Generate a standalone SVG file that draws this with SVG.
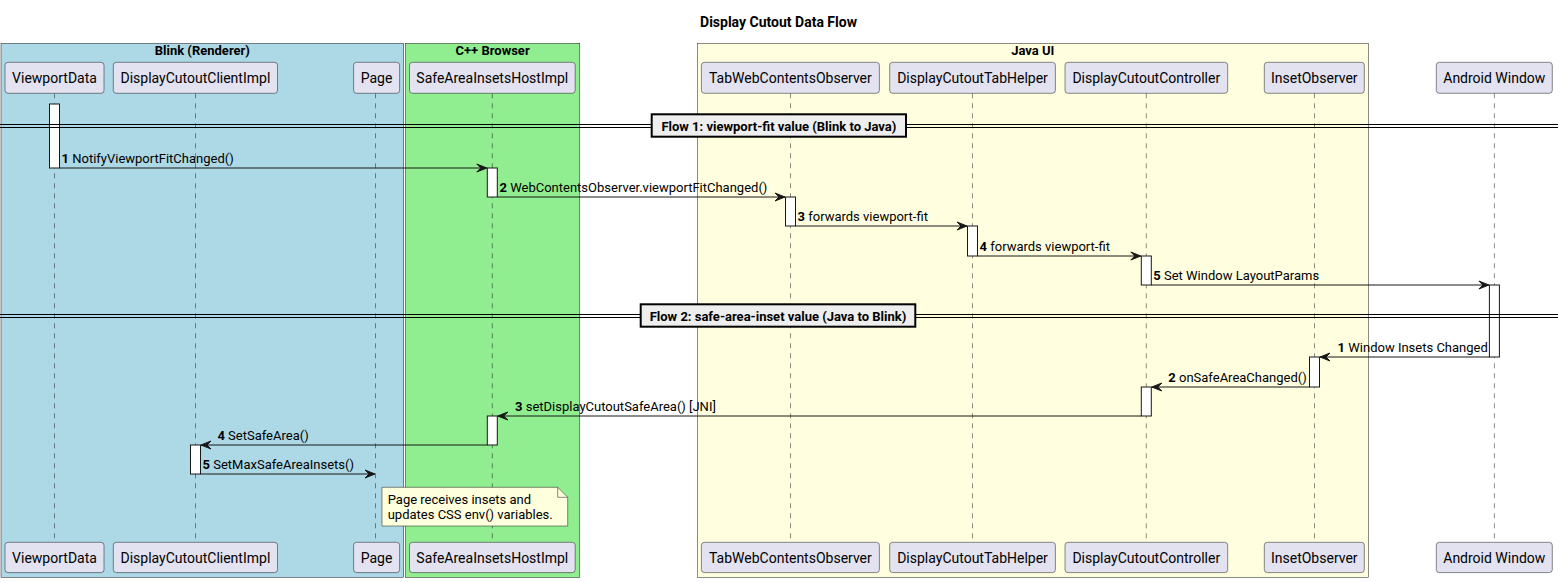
<svg xmlns="http://www.w3.org/2000/svg" width="1563" height="582" viewBox="0 0 1563 582">
<style>
text{font-family:Roboto,"Liberation Sans",sans-serif;fill:#000}
.title{font-size:14px;font-weight:bold}
.grp{font-size:13px;font-weight:bold}
.pname{font-size:14px}
.msg{font-size:13px}
.b{font-weight:bold}
.part{fill:#E2E2F0;stroke:#181818;stroke-width:0.5}
.life{stroke:#181818;stroke-width:0.5;stroke-dasharray:5,5;fill:none}
.act{fill:#FFFFFF;stroke:#181818;stroke-width:1}
.line{stroke:#181818;stroke-width:1;fill:none;marker-end:url(#arr)}
.sep{stroke:#000;stroke-width:1}
.seplab{fill:#EEEEEE;stroke:#000;stroke-width:2}
.sept{font-size:13px;font-weight:bold}
.box{stroke:#181818;stroke-width:0.5}
</style>
<defs>
<marker id="arr" viewBox="-1 -1 12 10" refX="10" refY="4" markerWidth="12" markerHeight="10" markerUnits="userSpaceOnUse" orient="auto">
<path d="M0,0 L10,4 L0,8 L4,4 Z" fill="#181818" stroke="#181818" stroke-width="1" stroke-linejoin="miter"/>
</marker>
</defs>
<rect width="1563" height="582" fill="#FFFFFF"/>
<text class="title" x="778.5" y="27" text-anchor="middle">Display Cutout Data Flow</text>

<g id="group-blink">
<rect class="box" x="1" y="43.3" width="402.7" height="534" fill="#ADD8E6"/>
<text class="grp" x="202.3" y="55" text-anchor="middle">Blink (Renderer)</text>
</g>
<g id="group-cpp">
<rect class="box" x="405.5" y="43.3" width="174.3" height="534" fill="#90EE90"/>
<text class="grp" x="492.6" y="55" text-anchor="middle">C++ Browser</text>
</g>
<g id="group-java">
<rect class="box" x="697.3" y="43.3" width="671" height="534" fill="#FFFFE0"/>
<text class="grp" x="1032.8" y="55" text-anchor="middle">Java UI</text>
</g>

<g id="lifelines">
<line class="life" x1="54.5" y1="93.3" x2="54.5" y2="542.3"/>
<line class="life" x1="195.5" y1="93.3" x2="195.5" y2="542.3"/>
<line class="life" x1="375.5" y1="93.3" x2="375.5" y2="542.3"/>
<line class="life" x1="492.3" y1="93.3" x2="492.3" y2="542.3"/>
<line class="life" x1="790.5" y1="93.3" x2="790.5" y2="542.3"/>
<line class="life" x1="972.5" y1="93.3" x2="972.5" y2="542.3"/>
<line class="life" x1="1146.3" y1="93.3" x2="1146.3" y2="542.3"/>
<line class="life" x1="1314.5" y1="93.3" x2="1314.5" y2="542.3"/>
<line class="life" x1="1494.4" y1="93.3" x2="1494.4" y2="542.3"/>
</g>

<g id="activations">
<rect class="act" x="49.5" y="104" width="10" height="64"/>
<rect class="act" x="487.3" y="168" width="10" height="29"/>
<rect class="act" x="785.5" y="197" width="10" height="29"/>
<rect class="act" x="967.5" y="226" width="10" height="30"/>
<rect class="act" x="1141.3" y="256" width="10" height="29"/>
<rect class="act" x="1489.4" y="285" width="10" height="72"/>
<rect class="act" x="1309.5" y="357" width="10" height="30"/>
<rect class="act" x="1141.3" y="387" width="10" height="29"/>
<rect class="act" x="487.3" y="416" width="10" height="29"/>
<rect class="act" x="190.5" y="445" width="10" height="29"/>
</g>

<g id="connectors">
<line class="line" x1="59.5" y1="168" x2="486.8" y2="168"/>
<text class="msg" x="61.5" y="163"><tspan class="b">1</tspan> NotifyViewportFitChanged()</text>
<line class="line" x1="497.3" y1="197" x2="785" y2="197"/>
<text class="msg" x="499.5" y="192"><tspan class="b">2</tspan> WebContentsObserver.viewportFitChanged()</text>
<line class="line" x1="795.5" y1="226" x2="967" y2="226"/>
<text class="msg" x="797.5" y="221"><tspan class="b">3</tspan> forwards viewport-fit</text>
<line class="line" x1="977.5" y1="256" x2="1140.8" y2="256"/>
<text class="msg" x="979.5" y="251"><tspan class="b">4</tspan> forwards viewport-fit</text>
<line class="line" x1="1151.3" y1="285" x2="1488.9" y2="285"/>
<text class="msg" x="1153.3" y="280"><tspan class="b">5</tspan> Set Window LayoutParams</text>

<line class="line" x1="1489.4" y1="357" x2="1320" y2="357"/>
<text class="msg" x="1337.6" y="352"><tspan class="b">1</tspan> Window Insets Changed</text>
<line class="line" x1="1309.5" y1="387" x2="1151.8" y2="387"/>
<text class="msg" x="1168.3" y="382"><tspan class="b">2</tspan> onSafeAreaChanged()</text>
<line class="line" x1="1141.3" y1="416" x2="497.8" y2="416"/>
<text class="msg" x="515" y="411"><tspan class="b">3</tspan> setDisplayCutoutSafeArea() [JNI]</text>
<line class="line" x1="487.3" y1="445" x2="201" y2="445"/>
<text class="msg" x="217.4" y="440"><tspan class="b">4</tspan> SetSafeArea()</text>
<line class="line" x1="200.5" y1="474" x2="375" y2="474"/>
<text class="msg" x="202.5" y="469"><tspan class="b">5</tspan> SetMaxSafeAreaInsets()</text>
</g>

<g id="separator-1">
<line class="sep" x1="0" y1="124.5" x2="1558" y2="124.5"/>
<line class="sep" x1="0" y1="127.5" x2="1558" y2="127.5"/>
<rect class="seplab" x="651.7" y="114.3" width="254.3" height="22.4"/>
<text class="sept" x="778.9" y="130.8" text-anchor="middle">Flow 1: viewport-fit value (Blink to Java)</text>
</g>
<g id="separator-2">
<line class="sep" x1="0" y1="314.5" x2="1558" y2="314.5"/>
<line class="sep" x1="0" y1="317.5" x2="1558" y2="317.5"/>
<rect class="seplab" x="640.7" y="304.3" width="274.6" height="22.4"/>
<text class="sept" x="778" y="320.8" text-anchor="middle">Flow 2: safe-area-inset value (Java to Blink)</text>
</g>

<g id="p-viewportdata">
<rect class="part" x="5" y="62.3" width="99" height="31" rx="3"/>
<text class="pname" x="54.5" y="82.5" text-anchor="middle">ViewportData</text>
<rect class="part" x="5" y="542.3" width="99" height="30.3" rx="3"/>
<text class="pname" x="54.5" y="562.5" text-anchor="middle">ViewportData</text>
</g>
<g id="p-displaycutoutclientimpl">
<rect class="part" x="113.3" y="62.3" width="164.2" height="31" rx="3"/>
<text class="pname" x="195.4" y="82.5" text-anchor="middle">DisplayCutoutClientImpl</text>
<rect class="part" x="113.3" y="542.3" width="164.2" height="30.3" rx="3"/>
<text class="pname" x="195.4" y="562.5" text-anchor="middle">DisplayCutoutClientImpl</text>
</g>
<g id="p-page">
<rect class="part" x="353.6" y="62.3" width="46" height="31" rx="3"/>
<text class="pname" x="376.6" y="82.5" text-anchor="middle">Page</text>
<rect class="part" x="353.6" y="542.3" width="46" height="30.3" rx="3"/>
<text class="pname" x="376.6" y="562.5" text-anchor="middle">Page</text>
</g>
<g id="p-safeareainsetshostimpl">
<rect class="part" x="409.5" y="62.3" width="165.7" height="31" rx="3"/>
<text class="pname" x="492.3" y="82.5" text-anchor="middle">SafeAreaInsetsHostImpl</text>
<rect class="part" x="409.5" y="542.3" width="165.7" height="30.3" rx="3"/>
<text class="pname" x="492.3" y="562.5" text-anchor="middle">SafeAreaInsetsHostImpl</text>
</g>
<g id="p-tabwebcontentsobserver">
<rect class="part" x="701.4" y="62.3" width="178" height="31" rx="3"/>
<text class="pname" x="790.4" y="82.5" text-anchor="middle">TabWebContentsObserver</text>
<rect class="part" x="701.4" y="542.3" width="178" height="30.3" rx="3"/>
<text class="pname" x="790.4" y="562.5" text-anchor="middle">TabWebContentsObserver</text>
</g>
<g id="p-displaycutouttabhelper">
<rect class="part" x="889.7" y="62.3" width="165.7" height="31" rx="3"/>
<text class="pname" x="972.5" y="82.5" text-anchor="middle">DisplayCutoutTabHelper</text>
<rect class="part" x="889.7" y="542.3" width="165.7" height="30.3" rx="3"/>
<text class="pname" x="972.5" y="562.5" text-anchor="middle">DisplayCutoutTabHelper</text>
</g>
<g id="p-displaycutoutcontroller">
<rect class="part" x="1065" y="62.3" width="162.7" height="31" rx="3"/>
<text class="pname" x="1146.3" y="82.5" text-anchor="middle">DisplayCutoutController</text>
<rect class="part" x="1065" y="542.3" width="162.7" height="30.3" rx="3"/>
<text class="pname" x="1146.3" y="562.5" text-anchor="middle">DisplayCutoutController</text>
</g>
<g id="p-insetobserver">
<rect class="part" x="1264.3" y="62.3" width="100" height="31" rx="3"/>
<text class="pname" x="1314.3" y="82.5" text-anchor="middle">InsetObserver</text>
<rect class="part" x="1264.3" y="542.3" width="100" height="30.3" rx="3"/>
<text class="pname" x="1314.3" y="562.5" text-anchor="middle">InsetObserver</text>
</g>
<g id="p-androidwindow">
<rect class="part" x="1436.3" y="62.3" width="116" height="31" rx="3"/>
<text class="pname" x="1494.3" y="82.5" text-anchor="middle">Android Window</text>
<rect class="part" x="1436.3" y="542.3" width="116" height="30.3" rx="3"/>
<text class="pname" x="1494.3" y="562.5" text-anchor="middle">Android Window</text>
</g>

<g id="note-page">
<path d="M382,487.3 L557.7,487.3 L567.7,497.3 L567.7,526 L382,526 Z" fill="#FEFFDD" stroke="#181818" stroke-width="0.5"/>
<path d="M557.7,487.3 L557.7,497.3 L567.7,497.3" fill="none" stroke="#181818" stroke-width="0.5"/>
<text class="msg" x="387.7" y="503.5">Page receives insets and</text>
<text class="msg" x="387.7" y="519">updates CSS env() variables.</text>
</g>
</svg>
